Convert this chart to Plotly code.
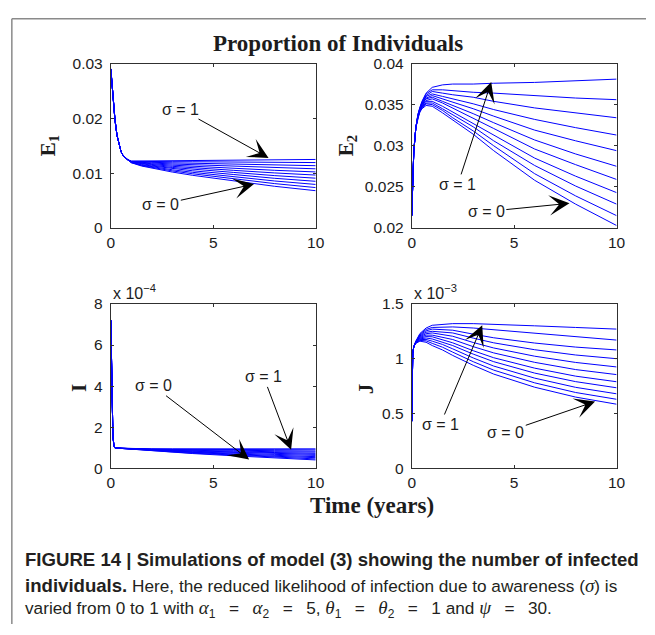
import plotly.graph_objects as go

# Awareness parameter sigma, one curve per value
SIGMA = [0.0, 0.1, 0.2, 0.3, 0.4, 0.5, 0.6, 0.7, 0.8, 0.9, 1.0]

# ---- E1 -------------------------------------------------------------
T_E1 = [0, 0.1, 0.2, 0.3, 0.4, 0.5, 0.6, 0.8, 1, 1.5, 2, 3, 4, 6, 8, 10]
E1_EARLY = [0.0290, 0.0240, 0.0198, 0.0169, 0.0151, 0.0139, 0.0132, 0.0125]
E1_LATE = [
    [0.01190, 0.01130, 0.01090, 0.01020, 0.00960, 0.00860, 0.00760, 0.00680],
    [0.01193, 0.01139, 0.01104, 0.01041, 0.00988, 0.00898, 0.00809, 0.00737],
    [0.01196, 0.01148, 0.01117, 0.01062, 0.01015, 0.00936, 0.00857, 0.00794],
    [0.01199, 0.01157, 0.01131, 0.01083, 0.01043, 0.00975, 0.00906, 0.00851],
    [0.01202, 0.01166, 0.01144, 0.01104, 0.01070, 0.01013, 0.00955, 0.00908],
    [0.01205, 0.01176, 0.01158, 0.01125, 0.01098, 0.01051, 0.01004, 0.00965],
    [0.01208, 0.01185, 0.01171, 0.01146, 0.01125, 0.01089, 0.01052, 0.01022],
    [0.01211, 0.01194, 0.01185, 0.01167, 0.01153, 0.01127, 0.01101, 0.01079],
    [0.01214, 0.01203, 0.01198, 0.01188, 0.01180, 0.01166, 0.01150, 0.01136],
    [0.01217, 0.01212, 0.01212, 0.01209, 0.01208, 0.01204, 0.01198, 0.01193],
    [0.01220, 0.01221, 0.01225, 0.01230, 0.01235, 0.01242, 0.01247, 0.01250],
]

# ---- E2 -------------------------------------------------------------
T_E2 = [0, 0.05, 0.1, 0.2, 0.3, 0.4, 0.5, 0.7, 1, 1.5, 2, 3, 4, 6, 8, 10]
E2 = [
    [0.0215, 0.0262, 0.0293, 0.0322, 0.0334, 0.0341, 0.0345, 0.0349, 0.0348, 0.0340, 0.0331, 0.0314, 0.0294, 0.0258, 0.0229, 0.0203],
    [0.0215, 0.0262, 0.0293, 0.0322, 0.0334, 0.0342, 0.0346, 0.0351, 0.0350, 0.0343, 0.0334, 0.0318, 0.0300, 0.0266, 0.0239, 0.0215],
    [0.0215, 0.0262, 0.0293, 0.0322, 0.0335, 0.0342, 0.0347, 0.0352, 0.0352, 0.0345, 0.0338, 0.0323, 0.0306, 0.0276, 0.0251, 0.0229],
    [0.0215, 0.0262, 0.0293, 0.0322, 0.0335, 0.0343, 0.0348, 0.0354, 0.0354, 0.0348, 0.0341, 0.0328, 0.0313, 0.0285, 0.0263, 0.0243],
    [0.0215, 0.0262, 0.0293, 0.0322, 0.0336, 0.0343, 0.0349, 0.0355, 0.0357, 0.0352, 0.0346, 0.0334, 0.0321, 0.0296, 0.0277, 0.0259],
    [0.0215, 0.0262, 0.0293, 0.0322, 0.0336, 0.0344, 0.0350, 0.0357, 0.0359, 0.0354, 0.0349, 0.0339, 0.0328, 0.0307, 0.0290, 0.0275],
    [0.0215, 0.0262, 0.0293, 0.0322, 0.0336, 0.0345, 0.0350, 0.0358, 0.0361, 0.0357, 0.0353, 0.0345, 0.0336, 0.0319, 0.0306, 0.0294],
    [0.0215, 0.0262, 0.0293, 0.0322, 0.0337, 0.0345, 0.0351, 0.0360, 0.0363, 0.0360, 0.0357, 0.0351, 0.0344, 0.0332, 0.0322, 0.0313],
    [0.0215, 0.0262, 0.0293, 0.0322, 0.0337, 0.0346, 0.0352, 0.0361, 0.0366, 0.0364, 0.0362, 0.0359, 0.0354, 0.0346, 0.0340, 0.0334],
    [0.0215, 0.0262, 0.0293, 0.0322, 0.0338, 0.0346, 0.0353, 0.0363, 0.0368, 0.0368, 0.0367, 0.0365, 0.0364, 0.0361, 0.0358, 0.0356],
    [0.0215, 0.0262, 0.0293, 0.0322, 0.0338, 0.0347, 0.0354, 0.0364, 0.0371, 0.0374, 0.0375, 0.0375, 0.0376, 0.0377, 0.0379, 0.0381],
]

# ---- I (in units of 1e-4) ---------------------------------------------
T_I = [0, 0.03, 0.06, 0.1, 0.15, 0.2, 0.5, 1, 2, 3, 4, 6, 8, 10]
I_EARLY = [7.2, 5.0, 3.0, 1.6, 1.1, 1.0]
I_LATE = [
    [0.97, 0.93, 0.86, 0.79, 0.72, 0.61, 0.50, 0.41],
    [0.97, 0.93, 0.87, 0.80, 0.74, 0.64, 0.54, 0.46],
    [0.97, 0.94, 0.88, 0.82, 0.76, 0.67, 0.59, 0.52],
    [0.97, 0.94, 0.89, 0.83, 0.78, 0.70, 0.63, 0.57],
    [0.97, 0.94, 0.89, 0.85, 0.80, 0.73, 0.68, 0.63],
    [0.98, 0.95, 0.90, 0.86, 0.83, 0.77, 0.72, 0.68],
    [0.98, 0.95, 0.91, 0.88, 0.85, 0.80, 0.77, 0.73],
    [0.98, 0.95, 0.92, 0.90, 0.87, 0.84, 0.81, 0.79],
    [0.98, 0.95, 0.93, 0.91, 0.90, 0.88, 0.86, 0.84],
    [0.98, 0.96, 0.94, 0.93, 0.92, 0.91, 0.91, 0.90],
    [0.98, 0.96, 0.95, 0.95, 0.95, 0.95, 0.95, 0.95],
]

# ---- J (in units of 1e-3) ---------------------------------------------
T_J = [0, 0.02, 0.05, 0.1, 0.2, 0.4, 0.7, 1, 1.5, 2, 3, 4, 6, 8, 10]
J_EARLY = [0.43, 0.80, 1.05, 1.11]
J_LATE = [
    [1.140, 1.160, 1.150, 1.120, 1.080, 1.030, 0.940, 0.860, 0.740, 0.650, 0.585],
    [1.142, 1.167, 1.163, 1.140, 1.105, 1.060, 0.973, 0.896, 0.780, 0.692, 0.630],
    [1.144, 1.174, 1.176, 1.160, 1.130, 1.090, 1.007, 0.933, 0.823, 0.739, 0.680],
    [1.146, 1.181, 1.189, 1.180, 1.150, 1.120, 1.042, 0.973, 0.869, 0.791, 0.735],
    [1.148, 1.188, 1.202, 1.200, 1.175, 1.145, 1.073, 1.009, 0.914, 0.841, 0.790],
    [1.150, 1.195, 1.215, 1.215, 1.195, 1.175, 1.110, 1.053, 0.967, 0.901, 0.855],
    [1.152, 1.202, 1.228, 1.235, 1.220, 1.205, 1.148, 1.098, 1.023, 0.966, 0.925],
    [1.154, 1.209, 1.241, 1.250, 1.240, 1.235, 1.188, 1.145, 1.082, 1.034, 1.000],
    [1.156, 1.216, 1.254, 1.270, 1.265, 1.260, 1.224, 1.191, 1.143, 1.106, 1.080],
    [1.158, 1.223, 1.267, 1.285, 1.290, 1.290, 1.280, 1.265, 1.235, 1.205, 1.170],
    [1.160, 1.230, 1.280, 1.305, 1.315, 1.320, 1.320, 1.315, 1.300, 1.285, 1.270],
]

W, H = 655, 635
SANS = "Liberation Sans, Arial, sans-serif"
SERIF = "Liberation Serif, Times New Roman, serif"
INK = "#1c1c1c"
BLUE = "#0000ff"


def fx(p):
    return p / W


def fy(p):
    return 1 - p / H


fig = go.Figure()

panels = [
    ("x", "y", T_E1, [E1_EARLY + row for row in E1_LATE]),
    ("x2", "y2", T_E2, E2),
    ("x3", "y3", T_I, [I_EARLY + row for row in I_LATE]),
    ("x4", "y4", T_J, [J_EARLY + row for row in J_LATE]),
]
for xa, ya, t, rows in panels:
    for s, row in zip(SIGMA, rows):
        fig.add_trace(go.Scatter(
            x=t, y=row, xaxis=xa, yaxis=ya, mode="lines",
            line=dict(color=BLUE, width=1), name=f"σ = {s:g}",
            showlegend=False, hoverinfo="skip",
        ))

axis_style = dict(
    showline=True, linecolor="#303030", linewidth=1, mirror="ticks",
    ticks="inside", ticklen=3, tickcolor="#303030", tickwidth=1,
    showgrid=False, zeroline=False,
    tickfont=dict(family=SANS, size=15.5, color=INK),
)
xstyle = dict(range=[0, 10], tickvals=[0, 5, 10], ticklabelstandoff=0, **axis_style)
ystyle = dict(ticklabelstandoff=4, **axis_style)

left_dom = [fx(109), fx(318)]
right_dom = [fx(416), fx(625)]
top_dom = [fy(225), fy(56)]
bot_dom = [fy(472), fy(303)]

fig.update_layout(
    width=W, height=H,
    margin=dict(l=0, r=0, t=0, b=0),
    paper_bgcolor="white", plot_bgcolor="white",
    xaxis=dict(domain=left_dom, anchor="y", **xstyle),
    yaxis=dict(domain=top_dom, anchor="x", range=[0, 0.03],
               tickvals=[0, 0.01, 0.02, 0.03], ticktext=["0", "0.01", "0.02", "0.03"], **ystyle),
    xaxis2=dict(domain=right_dom, anchor="y2", **xstyle),
    yaxis2=dict(domain=top_dom, anchor="x2", range=[0.02, 0.04],
                tickvals=[0.02, 0.025, 0.03, 0.035, 0.04],
                ticktext=["0.02", "0.025", "0.03", "0.035", "0.04"], **ystyle),
    xaxis3=dict(domain=left_dom, anchor="y3", **xstyle),
    yaxis3=dict(domain=bot_dom, anchor="x3", range=[0, 8], tickvals=[0, 2, 4, 6, 8], **ystyle),
    xaxis4=dict(domain=right_dom, anchor="y4", **xstyle),
    yaxis4=dict(domain=bot_dom, anchor="x4", range=[0, 1.5],
                tickvals=[0, 0.5, 1, 1.5], ticktext=["0", "0.5", "1", "1.5"], **ystyle),
)

ann = []


def paper_text(text, x, y, size, family, xanchor="center", angle=0, color=INK):
    ann.append(dict(text=text, x=fx(x), y=fy(y), xref="paper", yref="paper",
                    xanchor=xanchor, yanchor="middle", showarrow=False,
                    textangle=angle, font=dict(family=family, size=size, color=color)))


paper_text("<b>Proportion of Individuals</b>", 341, 35, 23, SERIF)
paper_text("<b>Time (years)</b>", 375, 510, 23, SERIF)
paper_text("<b>E<sub>1</sub></b>", 46, 141, 21, SERIF, angle=-90)
paper_text("<b>E<sub>2</sub></b>", 350, 141, 21, SERIF, angle=-90)
paper_text("<b>I</b>", 76, 389, 21, SERIF, angle=-90)
paper_text("<b>J</b>", 369, 390, 21, SERIF, angle=-90)
paper_text("x 10<sup>−4</sup>", 109, 291, 16, SANS, xanchor="left")
paper_text("x 10<sup>−3</sup>", 416, 291, 16, SANS, xanchor="left")

# caption: bold lead-in slightly larger than the running text
CAP = "#231f20"
CAP_SIZE = 17.2
BOLD = "font-size:18.6px"
gk = "font-family:Liberation Serif;font-size:19px"
eq = "\u2002\u2009\u200a=\u2002\u2009\u200a"
paper_text(f"<b><span style='{BOLD}'>FIGURE 14 | Simulations of model (3) showing the number of infected</span></b>",
           19, 566, CAP_SIZE, SANS, xanchor="left", color=CAP)
paper_text(f"<b><span style='{BOLD}'>individuals.</span></b> Here, the reduced likelihood of infection due to awareness "
           f"(<span style='{gk}'><i>σ</i></span>) is",
           19, 592, CAP_SIZE, SANS, xanchor="left", color=CAP)
paper_text("varied from 0 to 1 with "
           f"<span style='{gk}'><i>α</i></span><sub>1</sub>{eq}"
           f"<span style='{gk}'><i>α</i></span><sub>2</sub>{eq}5, "
           f"<span style='{gk}'><i>θ</i></span><sub>1</sub>{eq}"
           f"<span style='{gk}'><i>θ</i></span><sub>2</sub>{eq}1 and "
           f"<span style='{gk}'><i>ψ</i></span>{eq}30.",
           19, 617, CAP_SIZE, SANS, xanchor="left", color=CAP)


def arrow(text, xa, ya, tx, ty, hx, hy):
    ann.append(dict(text=text, xref=xa, yref=ya, axref=xa, ayref=ya,
                    x=hx, y=hy, ax=tx, ay=ty, showarrow=True,
                    arrowhead=3, arrowsize=3.4, arrowwidth=1, arrowcolor="black",
                    standoff=0, startstandoff=0,
                    font=dict(family=SANS, size=16, color=INK)))


arrow("σ = 1", "x", "y", 3.4, 0.0217, 7.70, 0.01278)
arrow("σ = 0", "x", "y", 2.44, 0.00426, 6.99, 0.0080)
arrow("σ = 1", "x2", "y2", 2.25, 0.0253, 3.88, 0.03775)
arrow("σ = 0", "x2", "y2", 3.64, 0.0220, 7.70, 0.0230)
arrow("σ = 0", "x3", "y3", 2.06, 4.02, 6.75, 0.43)
arrow("σ = 1", "x3", "y3", 7.46, 4.45, 8.80, 0.90)
arrow("σ = 1", "x4", "y4", 1.39, 0.40, 3.44, 1.305)
arrow("σ = 0", "x4", "y4", 4.59, 0.33, 8.95, 0.61)

fig.update_layout(annotations=ann)

# frame around the figure panel
frame = dict(color="#8a8a8a", width=1.5)
fig.add_shape(type="line", xref="paper", yref="paper",
              x0=fx(8), x1=fx(8), y0=fy(10), y1=fy(632), line=frame)
fig.add_shape(type="line", xref="paper", yref="paper",
              x0=fx(8), x1=1.0, y0=fy(10), y1=fy(10), line=frame)

fig.write_html("out.html")
